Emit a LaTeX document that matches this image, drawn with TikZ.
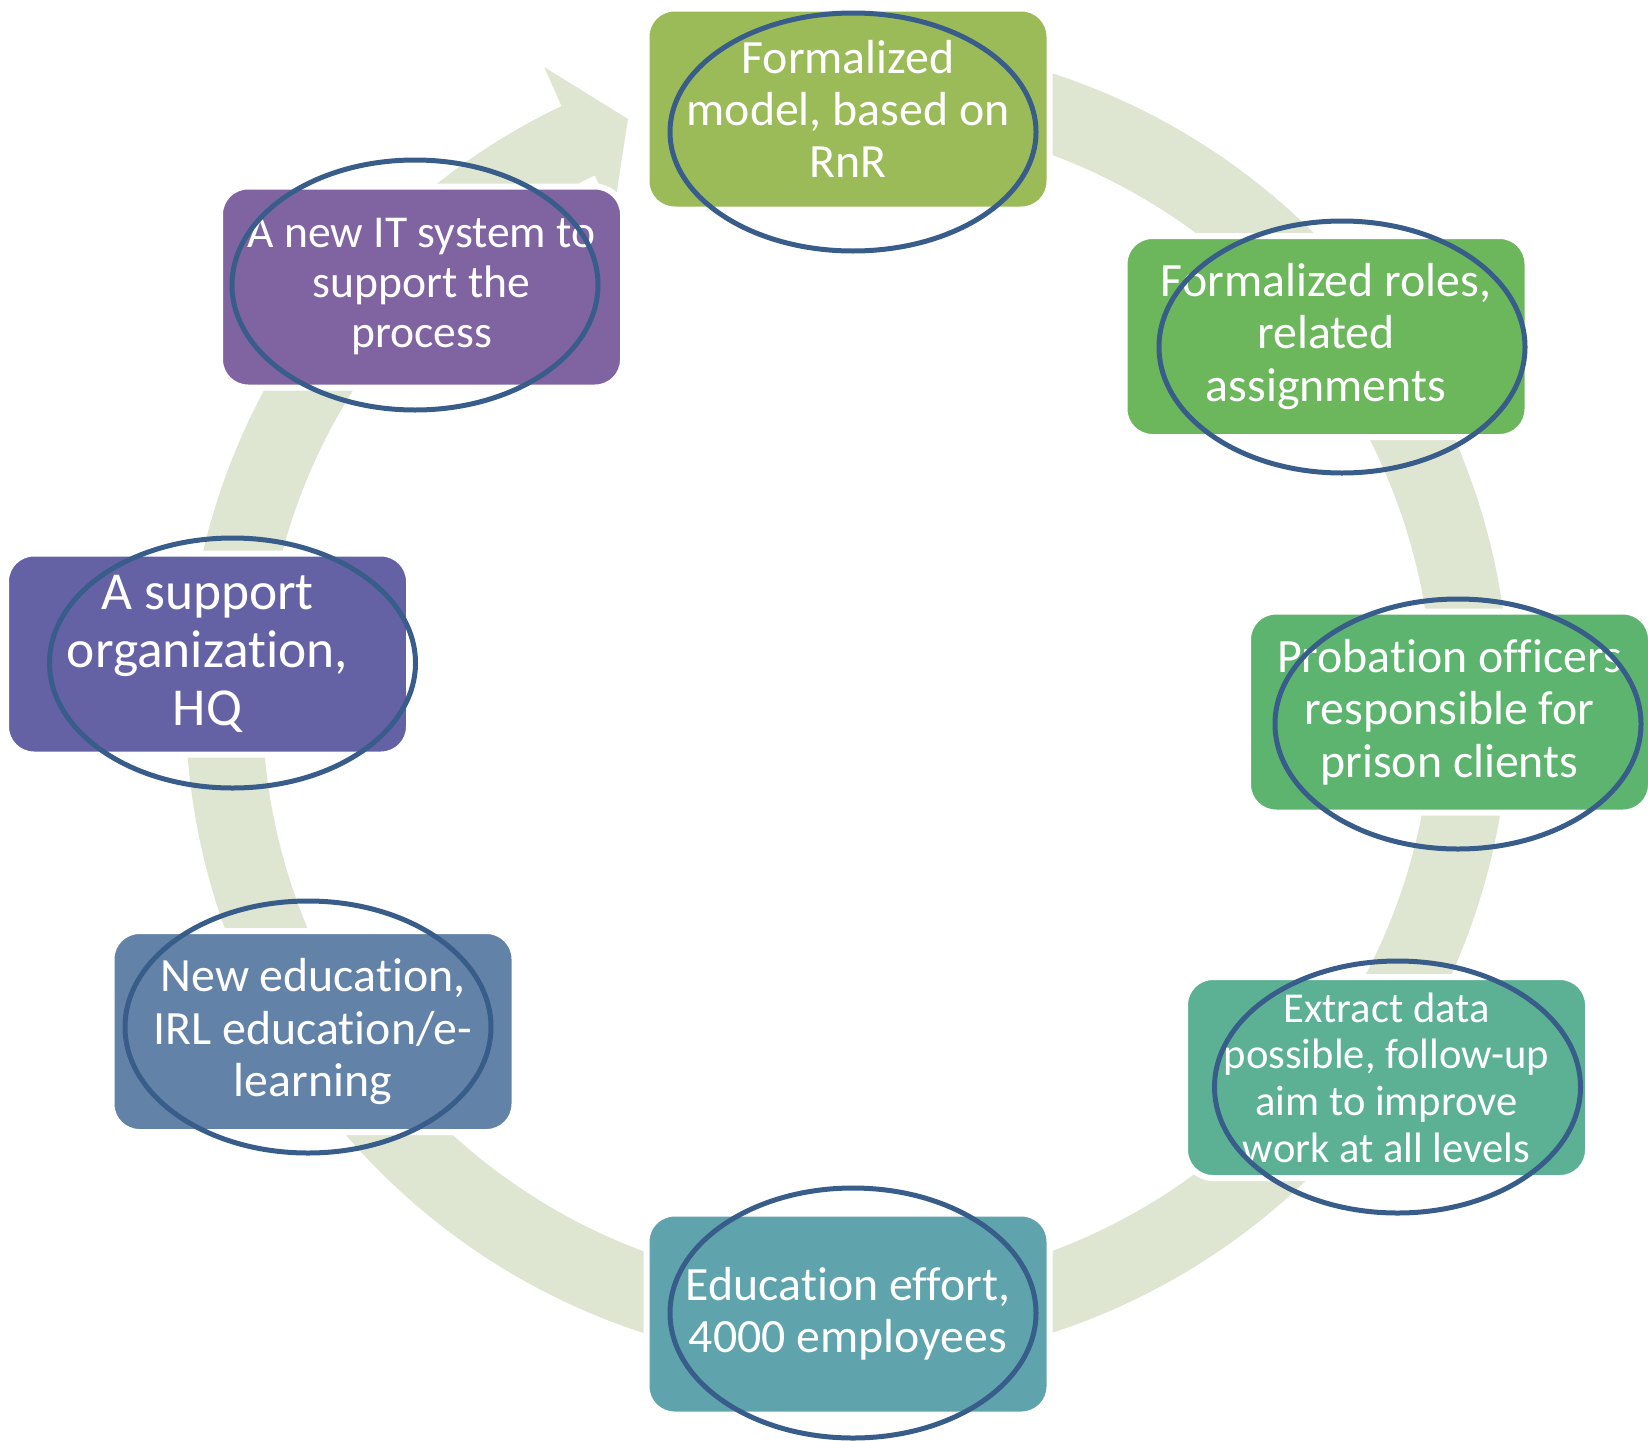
\documentclass[tikz,border=0pt]{standalone}
\usepackage{fontspec}
\setmainfont{Carlito}[Ligatures={NoCommon,NoContextual,NoRare}, Contextuals={NoAlternate}]
\usetikzlibrary{shapes.geometric}
\newcommand\nolig{\kern0pt }
\definecolor{ringc}{RGB}{222,230,209}
\definecolor{c1}{RGB}{155,187,89}
\definecolor{c2}{RGB}{108,182,92}
\definecolor{c3}{RGB}{93,180,110}
\definecolor{c4}{RGB}{92,177,148}
\definecolor{c5}{RGB}{95,163,173}
\definecolor{c6}{RGB}{99,130,168}
\definecolor{c7}{RGB}{100,98,165}
\definecolor{c8}{RGB}{128,100,162}
\definecolor{ell}{RGB}{56,93,138}
\begin{document}
\begin{tikzpicture}[x=0.5pt,y=-0.5pt,
  box/.style={rectangle, rounded corners=14pt, draw=white, line width=3pt,
    minimum width=201.5pt, minimum height=100.5pt, inner sep=0pt, text=white,
    align=center, font=\fontsize{23.9}{26.2}\selectfont},
  oval/.style={ellipse, draw=ell, line width=2.5pt, inner sep=0pt,
    minimum width=183pt, minimum height=125pt}]
\useasboundingbox (0,0) rectangle (1648,1440);
\coordinate (C) at (847.5,703);
% circular arrow
\fill[ringc] ([shift={(90:331pt)}]C) arc[start angle=90, end angle=-244.4, radius=331pt]
  -- ([shift={(115.5:352.3pt)}]C) -- ([shift={(110.6:312pt)}]C)
  -- ([shift={(115.6:271pt)}]C) -- ([shift={(115.6:292.5pt)}]C)
  arc[start angle=-244.4, end angle=90, radius=292.5pt] -- cycle;
% boxes
\node[box, fill=c1] (b1) at (848,109) {Formalized\\model, based on\\RnR};
\node[box, fill=c2] (b2) at (1326,336.5) {Formalized roles,\\related\\assignments};
\node[box, fill=c3] (b3) at (1449.5,712) {Probat\nolig ion officers\\responsible for\\prison clients};
\node[box, fill=c4, font=\fontsize{21.3}{23.3}\selectfont] (b4) at (1386.5,1077.5) {Extract data\\possible, follow-up\\aim to improve\\work at all levels};
\node[box, fill=c5] (b5) at (848,1314) {Educat\nolig ion effort,\\4000 employees};
\node[box, fill=c6] (b6) at (313,1031.5) {New educat\nolig ion,\\IRL educat\nolig ion/e-\\learning};
\node[box, fill=c7, font=\fontsize{26.7}{29.15}\selectfont] (b7) at (207.5,654) {A support\\organizat\nolig ion,\\HQ};
\node[box, fill=c8, font=\fontsize{22.8}{25}\selectfont] (b8) at (421.5,287) {A new IT system to\\support the\\process};
% ellipses
\node[oval, minimum height=119pt] (e1) at (853,132) {};
\node[oval, minimum height=126pt] (e2) at (1342,347) {};
\node[oval] (e3) at (1458,724) {};
\node[oval, minimum height=126pt] (e4) at (1397.5,1087) {};
\node[oval] (e5) at (853,1313) {};
\node[oval, minimum height=126pt] (e6) at (308,1027) {};
\node[oval] (e7) at (232.5,663) {};
\node[oval] (e8) at (415,285) {};
\end{tikzpicture}
\end{document}
